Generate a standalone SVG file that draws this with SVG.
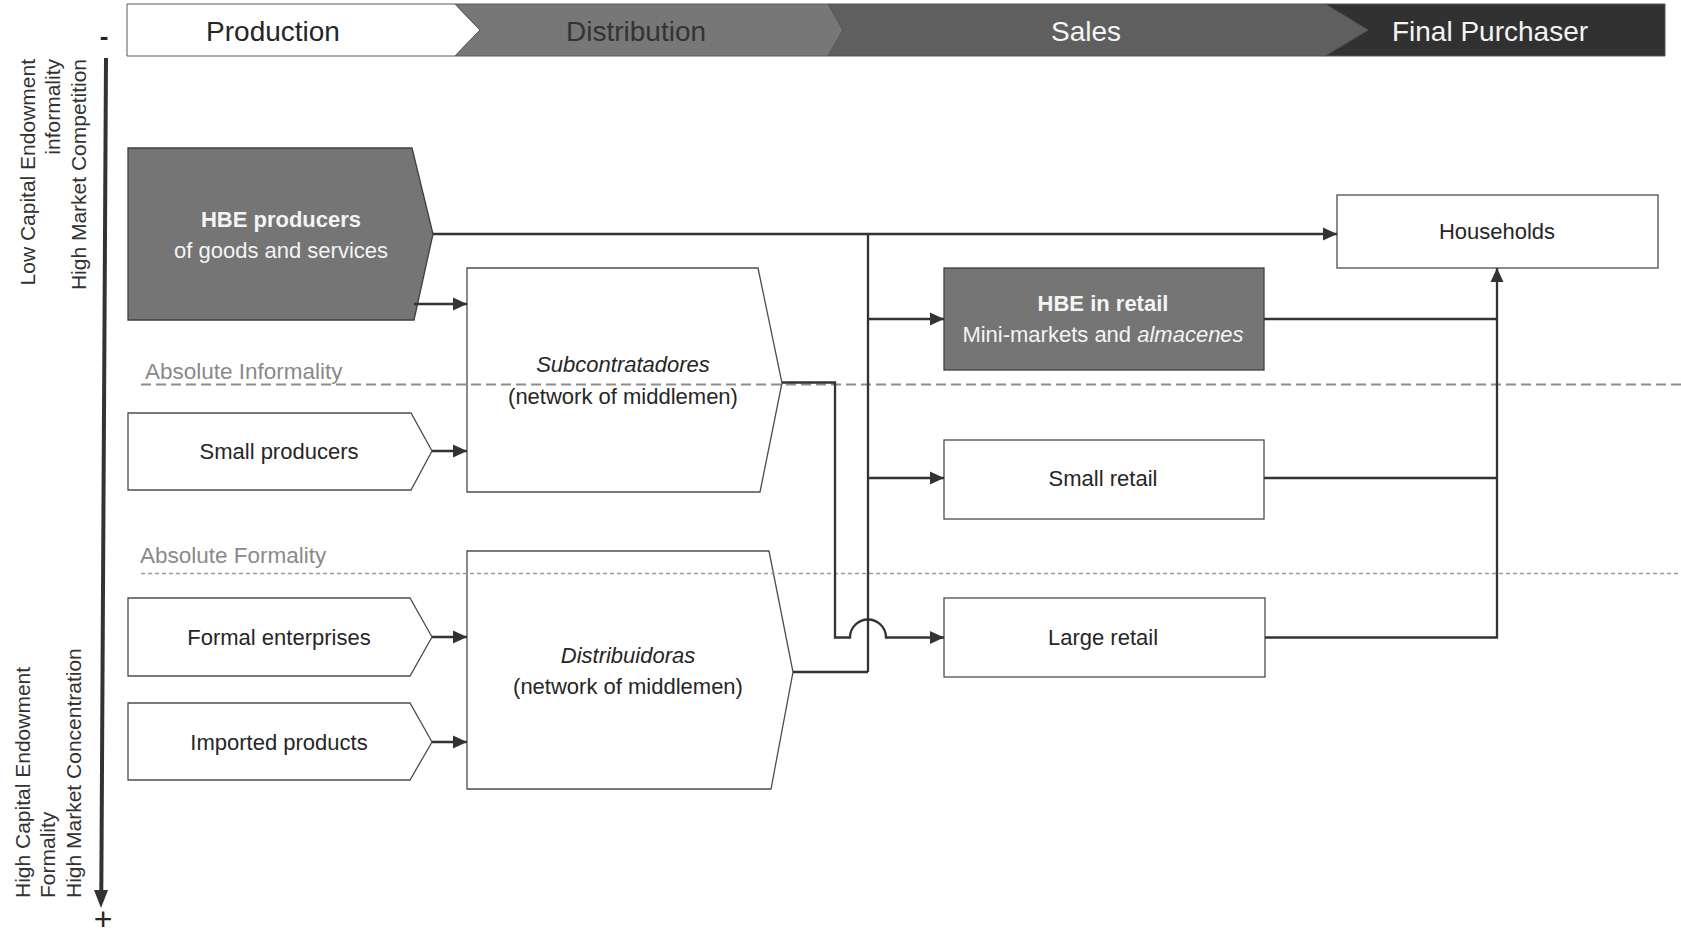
<svg xmlns="http://www.w3.org/2000/svg" width="1681" height="937" viewBox="0 0 1681 937">
  <style>
    .t { font-family: "Liberation Sans", Arial, sans-serif; fill: #262626; }
    .hdr { font-size: 28px; text-anchor: middle; }
    .lbl { font-size: 22px; text-anchor: middle; }
    .side { font-size: 21px; fill: #333; }
    .band { font-size: 22.5px; fill: #8a8a8a; }
    .light { fill: #f4f4f4; }
    .box { fill: #ffffff; stroke: #4d4d4d; stroke-width: 1.3; }
    .dark { fill: #757575; stroke: #3f3f3f; stroke-width: 1.3; }
    .conn { fill: none; stroke: #333; stroke-width: 2.3; }
    .arr { marker-end: url(#ah); }
  </style>
  <defs>
    <marker id="ah" viewBox="0 0 14 14" refX="14" refY="7" markerWidth="14" markerHeight="14" markerUnits="userSpaceOnUse" orient="auto">
      <path d="M0,0.5 L14,7 L0,13.5 Z" fill="#333"/>
    </marker>
  </defs>

  <rect width="1681" height="937" fill="#ffffff"/>

  <!-- value-chain header -->
  <g id="header">
    <polygon points="127,4 455,4 480,30 455,56 127,56" fill="#ffffff" stroke="#595959" stroke-width="1"/>
    <polygon points="455,4 828,4 843,30 828,56 455,56 480,30" fill="#777777" stroke="#5a5a5a" stroke-width="1"/>
    <polygon points="828,4 1325,4 1368,30 1325,56 828,56 843,30" fill="#5f5f5f" stroke="#555" stroke-width="1"/>
    <polygon points="1325,4 1665,4 1665,56 1325,56 1368,30" fill="#313131" stroke="#555" stroke-width="1"/>
    <text class="t hdr" x="273" y="40.5">Production</text>
    <text class="t hdr" x="636" y="40.5" style="fill:#333">Distribution</text>
    <text class="t hdr light" x="1086" y="40.5">Sales</text>
    <text class="t hdr light" x="1490" y="40.5">Final Purchaser</text>
  </g>

  <!-- vertical axis -->
  <g id="axis">
    <text class="t" x="104" y="45" font-size="26" font-weight="bold" text-anchor="middle" fill="#333">-</text>
    <line x1="106" y1="58" x2="101.3" y2="893" stroke="#333" stroke-width="4"/>
    <polygon points="94,890 108,890 101,908" fill="#333"/>
    <text class="t" x="103" y="930" font-size="32" text-anchor="middle" fill="#333">+</text>
    <text class="t side" text-anchor="end" transform="translate(35,59) rotate(-90)">Low Capital Endowment</text>
    <text class="t side" text-anchor="end" transform="translate(60,59) rotate(-90)">informality</text>
    <text class="t side" text-anchor="end" transform="translate(86,59) rotate(-90)">High Market Competition</text>
    <text class="t side" transform="translate(30,898) rotate(-90)">High Capital Endowment</text>
    <text class="t side" transform="translate(55,898) rotate(-90)">Formality</text>
    <text class="t side" transform="translate(81,898) rotate(-90)">High Market Concentration</text>
  </g>

  <!-- producers -->
  <g id="hbe-producers">
    <polygon class="dark" points="128,148 412,148 433,234 414,320 128,320"/>
    <text class="t lbl light" x="281" y="226.5" font-weight="bold" font-size="21">HBE producers</text>
    <text class="t lbl light" x="281" y="257.5">of goods and services</text>
  </g>
  <g id="small-producers">
    <polygon class="box" points="128,413 411,413 432,451 411,490 128,490"/>
    <text class="t lbl" x="279" y="459">Small producers</text>
  </g>
  <g id="formal-enterprises">
    <polygon class="box" points="128,598 410,598 432,637 410,676 128,676"/>
    <text class="t lbl" x="279" y="645">Formal enterprises</text>
  </g>
  <g id="imported-products">
    <polygon class="box" points="128,703 410,703 432,742 410,780 128,780"/>
    <text class="t lbl" x="279" y="750" font-size="22.5">Imported products</text>
  </g>

  <!-- middlemen -->
  <g id="subcontratadores">
    <polygon class="box" points="467,268 758,268 782,383 760,492 467,492"/>
    <text class="t lbl" x="623" y="372" font-style="italic">Subcontratadores</text>
    <text class="t lbl" x="623" y="404" font-size="23">(network of middlemen)</text>
  </g>
  <g id="distribuidoras">
    <polygon class="box" points="467,551 769,551 793,672 771,789 467,789"/>
    <text class="t lbl" x="628" y="663" font-style="italic" font-size="22.5">Distribuidoras</text>
    <text class="t lbl" x="628" y="694" font-size="23">(network of middlemen)</text>
  </g>

  <!-- retail -->
  <g id="hbe-retail">
    <rect class="dark" x="944" y="268" width="320" height="102"/>
    <text class="t lbl light" x="1103" y="311" font-weight="bold" font-size="21">HBE in retail</text>
    <text class="t lbl light" x="1103" y="342">Mini-markets and <tspan font-style="italic">almacenes</tspan></text>
  </g>
  <g id="small-retail">
    <rect class="box" x="944" y="440" width="320" height="79"/>
    <text class="t lbl" x="1103" y="486">Small retail</text>
  </g>
  <g id="large-retail">
    <rect class="box" x="944" y="598" width="321" height="79"/>
    <text class="t lbl" x="1103" y="645">Large retail</text>
  </g>

  <!-- final purchaser -->
  <g id="households">
    <rect class="box" x="1337" y="195" width="321" height="73"/>
    <text class="t lbl" x="1497" y="238.5">Households</text>
  </g>

  <!-- formality bands -->
  <g id="bands">
    <line x1="141" y1="384.5" x2="1681" y2="384.5" stroke="#8c8c8c" stroke-width="1.8" stroke-dasharray="10 5"/>
    <text class="t band" x="145" y="379">Absolute Informality</text>
    <line x1="141" y1="573.5" x2="1681" y2="573.5" stroke="#9a9a9a" stroke-width="1.3" stroke-dasharray="4 3"/>
    <text class="t band" x="140" y="563">Absolute Formality</text>
  </g>

  <!-- flows -->
  <g id="connectors">
    <path class="conn arr" d="M433,234 H1337"/>
    <path class="conn" d="M868,234 V672"/>
    <path class="conn arr" d="M868,319 H944"/>
    <path class="conn arr" d="M868,478 H944"/>
    <path class="conn" d="M793,672 H868"/>
    <path class="conn arr" d="M782,382.5 H835 V637.5 H850 A18,18 0 0 1 886,637.5 H944"/>
    <path class="conn arr" d="M414,304 H467"/>
    <path class="conn arr" d="M432,451 H467"/>
    <path class="conn arr" d="M432,637 H467"/>
    <path class="conn arr" d="M432,742 H467"/>
    <path class="conn" d="M1264,319 H1497"/>
    <path class="conn" d="M1264,478 H1497"/>
    <path class="conn arr" d="M1265,637.5 H1497 V268"/>
  </g>
</svg>
